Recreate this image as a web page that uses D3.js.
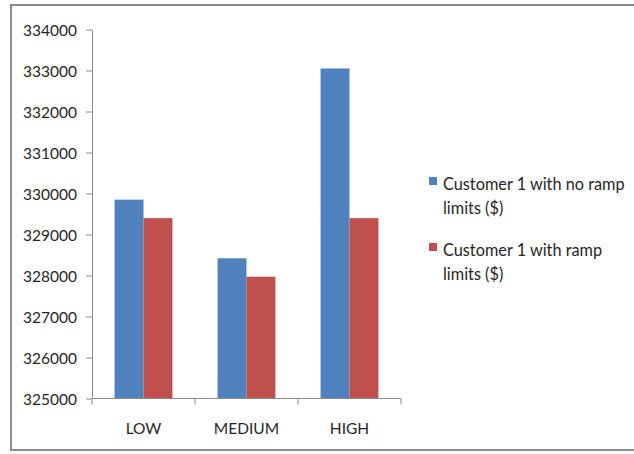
<!DOCTYPE html>
<html>
<head>
<meta charset="utf-8">
<script src="https://cdn.jsdelivr.net/npm/d3@7"></script>
<style>
  html, body { margin: 0; padding: 0; background: #fff; }
  svg { display: block; }
  text { font-family: Lato, "Open Sans", sans-serif; fill: #262626; }
</style>
</head>
<body>
<svg id="chart" width="634" height="454"></svg>
<script>
// Ramp-limit cost comparison per scenario
const categories = ["LOW", "MEDIUM", "HIGH"];
const seriesNames = ["Customer 1 with no ramp limits ($)", "Customer 1 with ramp limits ($)"];
const noRampLimits = [329850, 328420, 333050];
const withRampLimits = [329400, 327970, 329400];
const yTicks = [325000, 326000, 327000, 328000, 329000, 330000, 331000, 332000, 333000, 334000];
const legendLines = [["Customer 1 with no ramp", "limits ($)"], ["Customer 1 with ramp", "limits ($)"]];
const colors = ["#4f81bd", "#c0504d"];

const svg = d3.select("#chart");

// outer frame
svg.append("rect")
  .attr("x", 11).attr("y", 5)
  .attr("width", 630).attr("height", 445)
  .attr("fill", "#fff")
  .attr("stroke", "#8c8c8c")
  .attr("stroke-width", 2);

const plot = { left: 92, right: 401, top: 29.5, bottom: 398.5 };

const x0 = d3.scaleBand().domain(categories).range([plot.left, plot.right]).padding(0);
const x1 = d3.scaleBand().domain(d3.range(seriesNames.length))
  .range([0, x0.bandwidth()]).paddingInner(0).paddingOuter(0.78);
const y = d3.scaleLinear().domain([yTicks[0], yTicks[yTicks.length - 1]])
  .range([plot.bottom, plot.top]);

const rows = categories.map((c, i) => ({ cat: c, vals: [noRampLimits[i], withRampLimits[i]] }));

// bars
svg.append("g").selectAll("g")
  .data(rows).join("g")
  .attr("transform", d => `translate(${x0(d.cat)},0)`)
  .selectAll("rect")
  .data(d => d.vals.map((v, s) => ({ v, s })))
  .join("rect")
  .attr("x", d => x1(d.s))
  .attr("width", x1.bandwidth())
  .attr("y", d => y(d.v))
  .attr("height", d => y(yTicks[0]) - y(d.v))
  .attr("fill", d => colors[d.s]);

// y axis
const yAxis = svg.append("g")
  .attr("transform", `translate(${plot.left},0)`)
  .call(d3.axisLeft(y).tickValues(yTicks).tickFormat(d3.format("d")).tickSizeInner(6).tickSizeOuter(0).tickPadding(9));
yAxis.select(".domain").attr("stroke", "#8c8c8c");
yAxis.selectAll(".tick line").attr("stroke", "#8c8c8c");
yAxis.selectAll(".tick text").style("font-size", "15.5px").attr("fill", "#262626").attr("dy", "0.36em");

// x axis with tick marks at category boundaries
const xAxisG = svg.append("g").attr("transform", `translate(0,${plot.bottom})`);
xAxisG.append("line")
  .attr("x1", plot.left).attr("x2", plot.right)
  .attr("stroke", "#8c8c8c");
const bounds = categories.map(c => x0(c)).concat([plot.right]);
xAxisG.selectAll("line.tk").data(bounds).join("line")
  .attr("class", "tk")
  .attr("x1", d => d).attr("x2", d => d)
  .attr("y1", 0).attr("y2", 6)
  .attr("stroke", "#8c8c8c");
xAxisG.selectAll("text").data(categories).join("text")
  .attr("x", d => x0(d) + x0.bandwidth() / 2)
  .attr("y", 35)
  .attr("text-anchor", "middle")
  .style("font-size", "15.5px")
  .text(d => d);

// legend
const legend = svg.append("g");
const lg = legend.selectAll("g").data(legendLines).join("g")
  .attr("transform", (d, i) => `translate(429,${177 + i * 66})`);
lg.append("rect")
  .attr("width", 8).attr("height", 8)
  .attr("fill", (d, i) => colors[i]);
lg.append("text")
  .attr("x", 14)
  .attr("y", 13)
  .style("font-size", "16.3px")
  .selectAll("tspan").data(d => d).join("tspan")
  .attr("x", 14)
  .attr("dy", (d, i) => i === 0 ? 0 : 24)
  .text(d => d);
</script>
</body>
</html>
